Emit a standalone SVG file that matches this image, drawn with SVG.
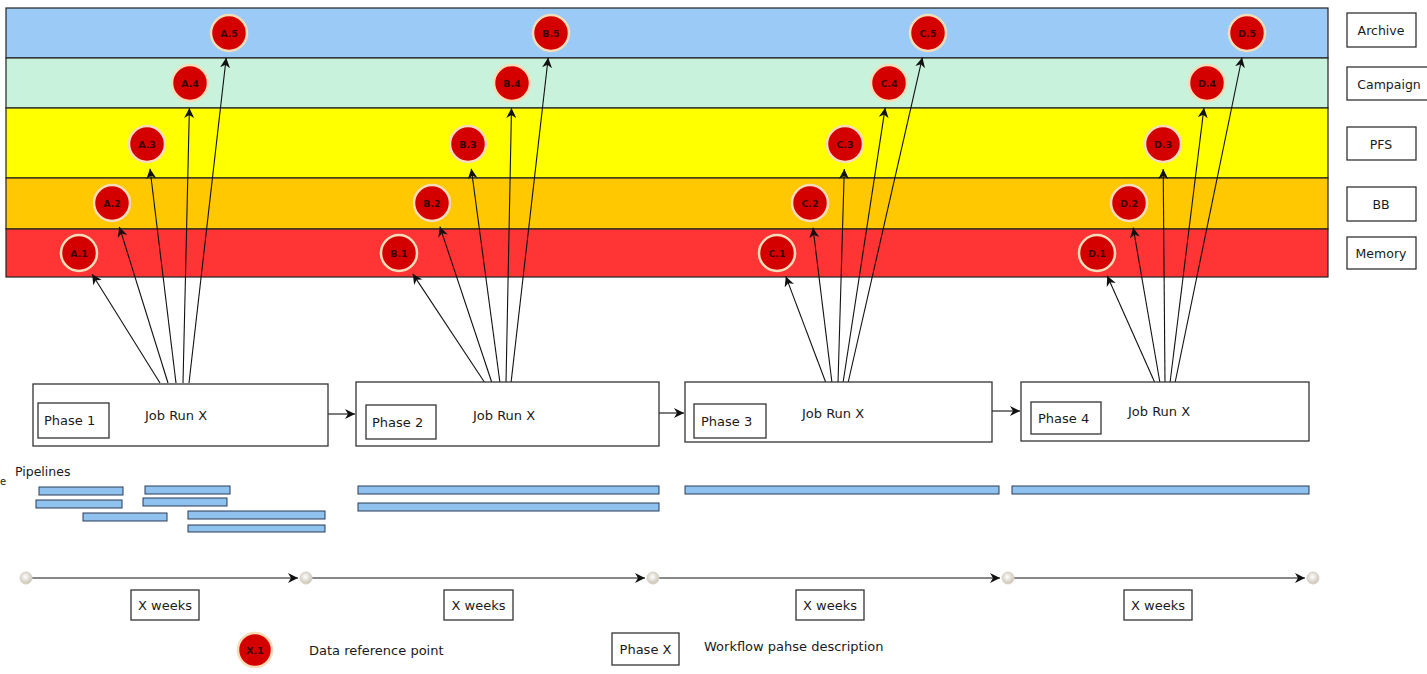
<svg xmlns="http://www.w3.org/2000/svg" width="1427" height="674" viewBox="0 0 1427 674">
  <style>
    text { font-family: "DejaVu Sans", "Liberation Sans", sans-serif; fill: #1a1a1a; }
    .box { fill: #ffffff; stroke: #333333; stroke-width: 1.3; }
    .lbl { font-size: 13px; }
    .tier { font-size: 12.5px; text-anchor: middle; }
    .ref circle { fill: #d40000; stroke: #f6dcb8; stroke-width: 2.5; }
    .ref text { font-size: 9.5px; font-weight: bold; text-anchor: middle; fill: #3a0000; }
    .link { stroke: #111111; stroke-width: 1.1; fill: none; marker-end: url(#head); }
    .pipe { fill: #8fc2ef; stroke: #2a3a55; stroke-width: 1; }
    .band { stroke: #222222; stroke-width: 1.2; }
    .tick { fill: url(#tickFill); stroke: #d8d2c6; stroke-width: 1; }
  </style>
  <defs>
    <marker id="head" markerUnits="userSpaceOnUse" markerWidth="12" markerHeight="10" refX="10" refY="5" orient="auto">
      <path d="M0,0 L10,5 L0,10 L3,5 Z" fill="#111111"/>
    </marker>
    <radialGradient id="tickFill" cx="0.45" cy="0.4" r="0.6">
      <stop offset="0" stop-color="#ffffff"/>
      <stop offset="1" stop-color="#c9c1b2"/>
    </radialGradient>
  </defs>

  <rect width="1427" height="674" fill="#ffffff"/>

  <!-- storage tiers -->
  <g id="tiers">
    <rect class="band" x="6" y="8" width="1322" height="50" fill="#9ccaf6"/>
    <rect class="band" x="6" y="58" width="1322" height="50" fill="#c9f2dc"/>
    <rect class="band" x="6" y="108" width="1322" height="70" fill="#ffff00"/>
    <rect class="band" x="6" y="178" width="1322" height="51" fill="#ffc800"/>
    <rect class="band" x="6" y="229" width="1322" height="48" fill="#ff3535"/>
  </g>

  <!-- tier names -->
  <g id="tier-archive"><rect class="box" x="1347" y="13" width="69" height="34"/><text class="tier" x="1381" y="35">Archive</text></g>
  <g id="tier-campaign"><rect class="box" x="1347" y="67" width="84" height="33"/><text class="tier" x="1389" y="89">Campaign</text></g>
  <g id="tier-pfs"><rect class="box" x="1347" y="127" width="69" height="33"/><text class="tier" x="1381" y="149">PFS</text></g>
  <g id="tier-bb"><rect class="box" x="1347" y="187" width="69" height="34"/><text class="tier" x="1381" y="209">BB</text></g>
  <g id="tier-memory"><rect class="box" x="1347" y="237" width="69" height="32"/><text class="tier" x="1381" y="258">Memory</text></g>

  <!-- data flows from each job run to its reference points -->
  <g id="connectors">
    <line class="link" x1="160" y1="383" x2="92.2" y2="274.2"/>
    <line class="link" x1="168" y1="383" x2="119.4" y2="226.9"/>
    <line class="link" x1="176" y1="383" x2="150" y2="168.8"/>
    <line class="link" x1="183" y1="383" x2="189.4" y2="108"/>
    <line class="link" x1="189" y1="383" x2="226.2" y2="57.8"/>

    <line class="link" x1="485" y1="383" x2="412.8" y2="273.9"/>
    <line class="link" x1="492" y1="383" x2="439.9" y2="226.7"/>
    <line class="link" x1="500" y1="383" x2="471.3" y2="168.8"/>
    <line class="link" x1="506" y1="383" x2="511.5" y2="108"/>
    <line class="link" x1="511" y1="383" x2="548.2" y2="57.8"/>

    <line class="link" x1="826" y1="383" x2="785.8" y2="276.4"/>
    <line class="link" x1="832" y1="383" x2="813" y2="227.8"/>
    <line class="link" x1="838" y1="383" x2="844.3" y2="169"/>
    <line class="link" x1="843" y1="383" x2="885.2" y2="107.7"/>
    <line class="link" x1="848" y1="383" x2="922.4" y2="57.4"/>

    <line class="link" x1="1155" y1="383" x2="1107.2" y2="275.8"/>
    <line class="link" x1="1160" y1="383" x2="1133.2" y2="227.6"/>
    <line class="link" x1="1165" y1="383" x2="1163.2" y2="169"/>
    <line class="link" x1="1170" y1="383" x2="1204" y2="107.8"/>
    <line class="link" x1="1175" y1="383" x2="1242" y2="57.5"/>

    <!-- phase to phase -->
    <line class="link" x1="328" y1="414" x2="355" y2="414"/>
    <line class="link" x1="659" y1="413" x2="684" y2="413"/>
    <line class="link" x1="992" y1="411" x2="1020" y2="411"/>

    <!-- timeline -->
    <line class="link" x1="32" y1="578" x2="298" y2="578"/>
    <line class="link" x1="312" y1="578" x2="645" y2="578"/>
    <line class="link" x1="659" y1="578" x2="1000" y2="578"/>
    <line class="link" x1="1014" y1="578" x2="1305" y2="578"/>
  </g>

  <!-- data reference points -->
  <g id="ref-a1" class="ref"><circle cx="79" cy="253" r="18"/><text x="79" y="256.5">A.1</text></g>
  <g id="ref-a2" class="ref"><circle cx="112" cy="203" r="18"/><text x="112" y="206.5">A.2</text></g>
  <g id="ref-a3" class="ref"><circle cx="147" cy="144" r="18"/><text x="147" y="147.5">A.3</text></g>
  <g id="ref-a4" class="ref"><circle cx="190" cy="83" r="18"/><text x="190" y="86.5">A.4</text></g>
  <g id="ref-a5" class="ref"><circle cx="229" cy="33" r="18"/><text x="229" y="36.5">A.5</text></g>

  <g id="ref-b1" class="ref"><circle cx="399" cy="253" r="18"/><text x="399" y="256.5">B.1</text></g>
  <g id="ref-b2" class="ref"><circle cx="432" cy="203" r="18"/><text x="432" y="206.5">B.2</text></g>
  <g id="ref-b3" class="ref"><circle cx="468" cy="144" r="18"/><text x="468" y="147.5">B.3</text></g>
  <g id="ref-b4" class="ref"><circle cx="512" cy="83" r="18"/><text x="512" y="86.5">B.4</text></g>
  <g id="ref-b5" class="ref"><circle cx="551" cy="33" r="18"/><text x="551" y="36.5">B.5</text></g>

  <g id="ref-c1" class="ref"><circle cx="777" cy="253" r="18"/><text x="777" y="256.5">C.1</text></g>
  <g id="ref-c2" class="ref"><circle cx="810" cy="203" r="18"/><text x="810" y="206.5">C.2</text></g>
  <g id="ref-c3" class="ref"><circle cx="845" cy="144" r="18"/><text x="845" y="147.5">C.3</text></g>
  <g id="ref-c4" class="ref"><circle cx="889" cy="83" r="18"/><text x="889" y="86.5">C.4</text></g>
  <g id="ref-c5" class="ref"><circle cx="928" cy="33" r="18"/><text x="928" y="36.5">C.5</text></g>

  <g id="ref-d1" class="ref"><circle cx="1097" cy="253" r="18"/><text x="1097" y="256.5">D.1</text></g>
  <g id="ref-d2" class="ref"><circle cx="1129" cy="203" r="18"/><text x="1129" y="206.5">D.2</text></g>
  <g id="ref-d3" class="ref"><circle cx="1163" cy="144" r="18"/><text x="1163" y="147.5">D.3</text></g>
  <g id="ref-d4" class="ref"><circle cx="1207" cy="83" r="18"/><text x="1207" y="86.5">D.4</text></g>
  <g id="ref-d5" class="ref"><circle cx="1247" cy="33" r="18"/><text x="1247" y="36.5">D.5</text></g>

  <!-- job runs -->
  <g id="phase-1">
    <rect class="box" x="33" y="384" width="295" height="62"/>
    <rect class="box" x="38" y="403" width="71" height="35"/>
    <text class="lbl" x="44" y="425">Phase 1</text>
    <text class="lbl" x="145" y="420">Job Run X</text>
  </g>
  <g id="phase-2">
    <rect class="box" x="356" y="382" width="303" height="64"/>
    <rect class="box" x="366" y="405" width="70" height="34"/>
    <text class="lbl" x="372" y="427">Phase 2</text>
    <text class="lbl" x="473" y="420">Job Run X</text>
  </g>
  <g id="phase-3">
    <rect class="box" x="685" y="382" width="307" height="60"/>
    <rect class="box" x="694" y="404" width="72" height="34"/>
    <text class="lbl" x="701" y="426">Phase 3</text>
    <text class="lbl" x="802" y="418">Job Run X</text>
  </g>
  <g id="phase-4">
    <rect class="box" x="1021" y="382" width="288" height="59"/>
    <rect class="box" x="1031" y="402" width="70" height="32"/>
    <text class="lbl" x="1038" y="423">Phase 4</text>
    <text class="lbl" x="1128" y="416">Job Run X</text>
  </g>

  <!-- pipelines -->
  <g id="pipelines">
    <text x="0" y="485" font-size="10">e</text>
    <text x="15" y="476" font-size="12.5">Pipelines</text>
    <rect class="pipe" x="39" y="487" width="84" height="8"/>
    <rect class="pipe" x="36" y="500" width="86" height="8"/>
    <rect class="pipe" x="83" y="513" width="84" height="8"/>
    <rect class="pipe" x="145" y="486" width="85" height="8"/>
    <rect class="pipe" x="143" y="498" width="84" height="8"/>
    <rect class="pipe" x="188" y="511" width="137" height="8"/>
    <rect class="pipe" x="188" y="525" width="137" height="7"/>
    <rect class="pipe" x="358" y="486" width="301" height="8"/>
    <rect class="pipe" x="358" y="503" width="301" height="8"/>
    <rect class="pipe" x="685" y="486" width="314" height="8"/>
    <rect class="pipe" x="1012" y="486" width="297" height="8"/>
  </g>

  <!-- timeline milestones -->
  <g id="milestones">
    <circle class="tick" cx="26" cy="578" r="6"/>
    <circle class="tick" cx="306" cy="578" r="6"/>
    <circle class="tick" cx="653" cy="578" r="6"/>
    <circle class="tick" cx="1008" cy="578" r="6"/>
    <circle class="tick" cx="1313" cy="578" r="6" fill="#dcdcdc" stroke="#e4e4e4"/>
  </g>
  <g id="weeks-1"><rect class="box" x="131" y="590" width="68" height="30"/><text class="lbl" x="165" y="610" text-anchor="middle">X weeks</text></g>
  <g id="weeks-2"><rect class="box" x="444" y="590" width="69" height="30"/><text class="lbl" x="478.5" y="610" text-anchor="middle">X weeks</text></g>
  <g id="weeks-3"><rect class="box" x="796" y="590" width="68" height="30"/><text class="lbl" x="830" y="610" text-anchor="middle">X weeks</text></g>
  <g id="weeks-4"><rect class="box" x="1124" y="590" width="68" height="30"/><text class="lbl" x="1158" y="610" text-anchor="middle">X weeks</text></g>

  <!-- legend -->
  <g id="legend-ref" class="ref">
    <circle cx="255" cy="650" r="17"/>
    <text x="255" y="653.5">X.1</text>
  </g>
  <text class="lbl" x="309" y="655">Data reference point</text>
  <g id="legend-phase">
    <rect class="box" x="612" y="633" width="67" height="32"/>
    <text class="lbl" x="645.5" y="654" text-anchor="middle">Phase X</text>
  </g>
  <text class="lbl" x="704" y="651">Workflow pahse description</text>
</svg>
